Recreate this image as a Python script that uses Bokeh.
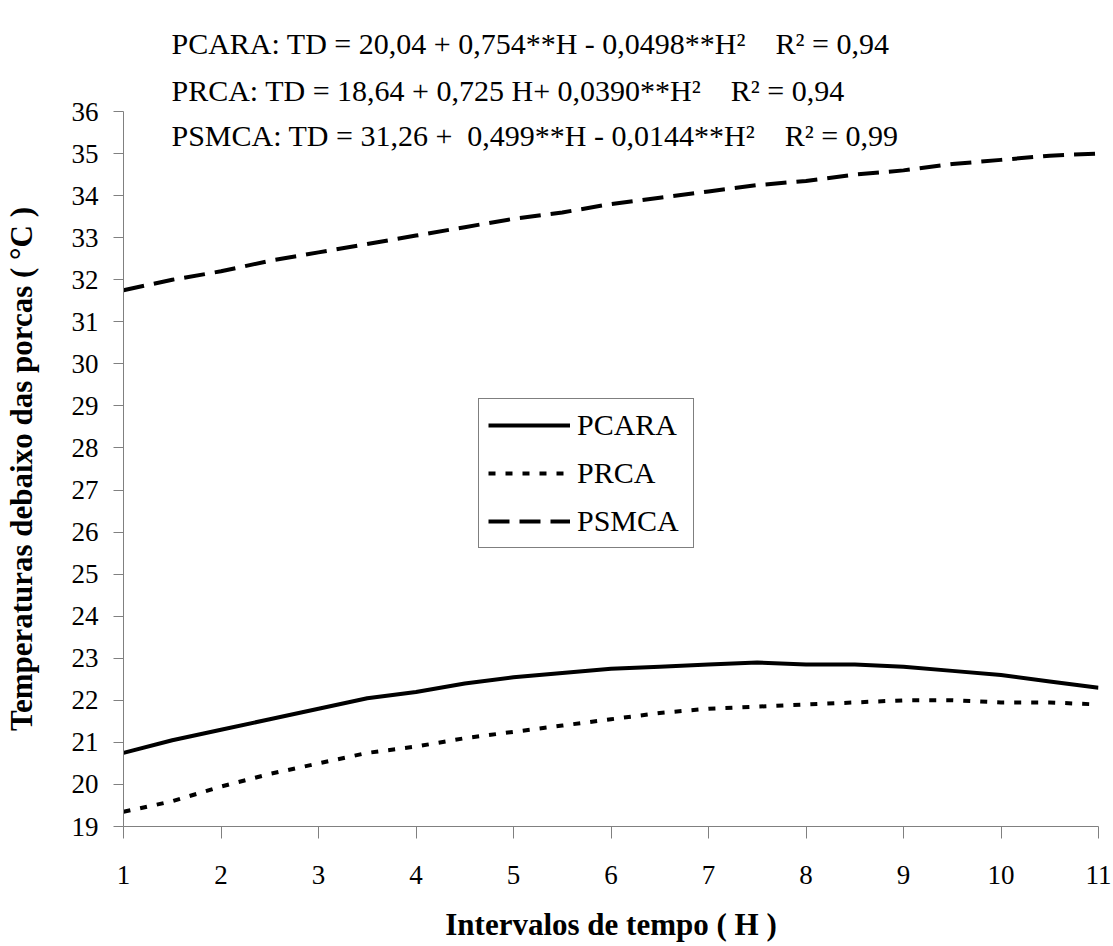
from bokeh.plotting import figure
from bokeh.models import Range1d, FixedTicker, Legend, LegendItem, Label, Title
from bokeh.embed import file_html
from bokeh.resources import INLINE

# ---- data ----
hours = [1.0, 1.5, 2.0, 2.5, 3.0, 3.5, 4.0, 4.5, 5.0, 5.5, 6.0,
         6.5, 7.0, 7.5, 8.0, 8.5, 9.0, 9.5, 10.0, 10.5, 11.0]
pcara = [20.75, 21.05, 21.30, 21.55, 21.80, 22.05, 22.20, 22.40, 22.55, 22.65, 22.75,
         22.80, 22.85, 22.90, 22.85, 22.85, 22.80, 22.70, 22.60, 22.45, 22.30]
prca = [19.35, 19.60, 19.95, 20.25, 20.50, 20.75, 20.90, 21.10, 21.25, 21.40, 21.55,
        21.70, 21.80, 21.85, 21.90, 21.95, 22.00, 22.00, 21.95, 21.95, 21.90]
psmca = [31.75, 32.00, 32.20, 32.45, 32.65, 32.85, 33.05, 33.25, 33.45, 33.60, 33.80,
         33.95, 34.10, 34.25, 34.35, 34.50, 34.60, 34.75, 34.85, 34.95, 35.00]
series_names = ["PCARA", "PRCA", "PSMCA"]
x_ticks = [1, 2, 3, 4, 5, 6, 7, 8, 9, 10, 11]
y_ticks = [19, 20, 21, 22, 23, 24, 25, 26, 27, 28, 29, 30, 31, 32, 33, 34, 35, 36]
NB = "\u00a0"
equations = [
    "PCARA: TD = 20,04 + 0,754**H - 0,0498**H\u00b2" + NB * 4 + "R\u00b2 = 0,94",
    "PRCA: TD = 18,64 + 0,725 H+ 0,0390**H\u00b2" + NB * 4 + "R\u00b2 = 0,94",
    "PSMCA: TD = 31,26 +" + NB * 2 + "0,499**H - 0,0144**H\u00b2" + NB * 4 + "R\u00b2 = 0,99",
]
x_title = "Intervalos de tempo ( H )"
y_title = "Temperaturas debaixo das porcas ( \u00b0C )"

FONT = "Liberation Serif"
EQ_FS = "30px"

p = figure(width=1113, height=946,
           x_range=Range1d(1, 11), y_range=Range1d(19, 36),
           output_backend="svg", toolbar_location=None,
           min_border_left=123, min_border_right=15,
           min_border_top=111, min_border_bottom=120)
p.background_fill_color = "white"
p.border_fill_color = "white"
p.outline_line_color = None
p.xgrid.visible = False
p.ygrid.visible = False

r1 = p.line(hours, pcara, line_color="black", line_width=4, line_join="round")
r2 = p.line(hours, prca, line_color="black", line_width=4, line_dash="7 10")
r3 = p.line(hours, psmca, line_color="black", line_width=4, line_dash="21 10")

for ax in (p.xaxis[0], p.yaxis[0]):
    ax.axis_line_color = "#808080"
    ax.major_tick_line_color = "#808080"
    ax.minor_tick_line_color = None
    ax.major_tick_in = 0
    ax.major_label_text_font = FONT
    ax.major_label_text_font_size = "27px"
    ax.major_label_text_color = "black"
    ax.axis_label_text_font = FONT
    ax.axis_label_text_font_size = "31px"
    ax.axis_label_text_font_style = "bold"
    ax.axis_label_text_color = "black"

p.xaxis.major_tick_out = 12
p.yaxis.major_tick_out = 10
p.xaxis.ticker = FixedTicker(ticks=x_ticks)
p.yaxis.ticker = FixedTicker(ticks=y_ticks)
p.xaxis.axis_label = x_title
p.yaxis.axis_label = y_title
p.xaxis.major_label_standoff = 27
p.xaxis.axis_label_standoff = 20
p.yaxis.major_label_standoff = 15
p.yaxis.axis_label_standoff = 30

legend = Legend(items=[LegendItem(label=series_names[0], renderers=[r1]),
                       LegendItem(label=series_names[1], renderers=[r2]),
                       LegendItem(label=series_names[2], renderers=[r3])],
                location=(355, 278))
legend.label_text_font = FONT
legend.label_text_font_size = "30px"
legend.label_text_color = "black"
legend.glyph_width = 82
legend.glyph_height = 34
legend.label_height = 34
legend.label_standoff = 7
legend.label_width = 107
legend.spacing = 14
legend.padding = 9
legend.margin = 0
legend.border_line_color = "black"
legend.border_line_width = 1
legend.background_fill_color = "white"
legend.background_fill_alpha = 1
p.add_layout(legend)

# equations 2 and 1 above the frame (added nearest-first), equation 3 inside
for txt, so in ((equations[1], 10), (equations[0], 14)):
    p.add_layout(Title(text=txt, align="left", offset=48, standoff=so,
                       text_font=FONT, text_font_size=EQ_FS,
                       text_font_style="normal", text_color="black"), "above")

PX_PER_UNIT = (826 - 111) / 17.0
p.add_layout(Label(x=1 + 48 / 97.5, y=36 + (111 - 135) / PX_PER_UNIT,
                   text=equations[2], text_font=FONT, text_font_size=EQ_FS,
                   text_baseline="middle", text_align="left", text_color="black"))

open("out.html", "w").write(file_html(p, INLINE))
